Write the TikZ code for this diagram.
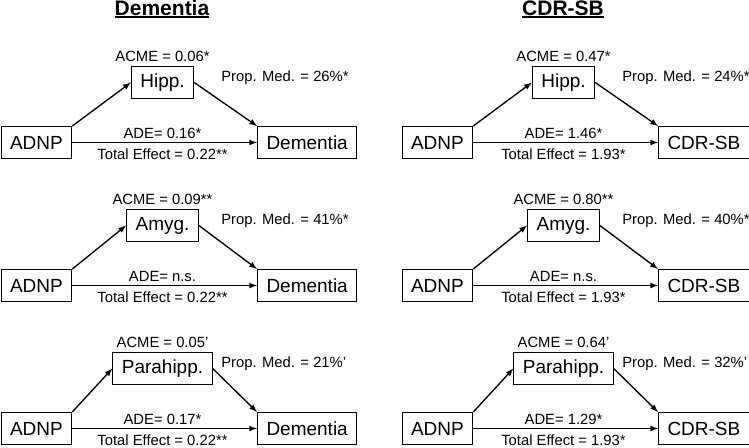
\documentclass[tikz,border=0pt]{standalone}
\usepackage{fontspec}
\setmainfont{Liberation Sans}
\newcommand{\ttlul}[1]{\setbox0\hbox{#1}\rlap{\usebox0}\rule[-2.25pt]{\wd0}{1.5pt}}

\begin{document}
\begin{tikzpicture}[x=0.75pt, y=-0.75pt, >=latex, font=\fontsize{11.1}{13}\selectfont,
  box/.style={draw, line width=0.75pt, font=\fontsize{14.25}{16}\selectfont, inner xsep=6.75pt, inner ysep=0pt, minimum height=24pt},
  lbl/.style={inner sep=0pt},
  ttl/.style={font=\fontsize{15.75}{18}\selectfont\bfseries, anchor=base},
  arr/.style={->, line width=1pt}]
\useasboundingbox (0,0) rectangle (749,447);
\node[ttl] (ttl-dem) at (162,15)   {\ttlul{Dementia}};
\node[ttl] (ttl-cdr) at (563,15)   {\ttlul{CDR-SB}};
% one mediation panel per row and outcome
\foreach \n/\dx/\my/\med/\outc/\acme/\prop/\ade/\tot in {
  1/0/82.5/Hipp./Dementia/0.06*/26\%*/0.16*/0.22**,
  2/0/225.5/Amyg./Dementia/0.09**/41\%*/n.s./0.22**,
  3/0/368.5/Parahipp./Dementia/0.05'/21\%'/0.17*/0.22**,
  4/401/82.5/Hipp./CDR-SB/0.47*/24\%*/1.46*/1.93*,
  5/401/225.5/Amyg./CDR-SB/0.80**/40\%*/n.s./1.93*,
  6/401/368.5/Parahipp./CDR-SB/0.64'/32\%'/1.29*/1.93*}{
  \node[box, anchor=west] (adnp\n) at (0.5+\dx,\my+60) {ADNP};
  \node[box]              (med\n)  at (162.5+\dx,\my)  {\med};
  \node[box, anchor=west] (out\n)  at (257+\dx,\my+60) {\outc};
  \draw[arr] (adnp\n.north east) -- (med\n.west);
  \draw[arr] (med\n.east) -- (out\n.north west);
  \draw[arr] (adnp\n) -- (out\n);
  \node[lbl] (acme\n) at (162.5+\dx,\my-26)           {ACME = \acme};
  \node[lbl, anchor=west] (prop\n) at (221+\dx,\my-5) {Prop. Med. = \prop};
  \node[lbl] (ade\n)  at (162.5+\dx,\my+50.5)         {ADE= \ade};
  \node[lbl] (tot\n)  at (162.5+\dx,\my+72)           {Total Effect = \tot};
}
\end{tikzpicture}
\end{document}
